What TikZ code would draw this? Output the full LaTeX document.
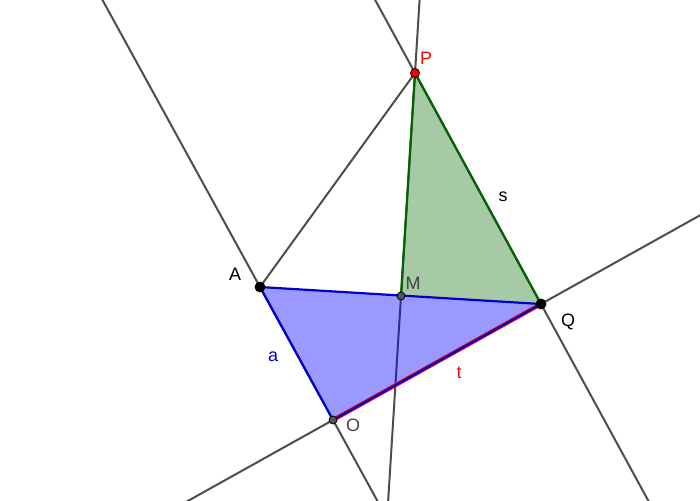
\documentclass[tikz,border=0pt]{standalone}
\usepackage{fontspec}
\setmainfont{Liberation Sans}
\usetikzlibrary{calc}
\definecolor{linegray}{RGB}{77,77,77}
\definecolor{edgeblue}{RGB}{0,0,200}
\definecolor{darkgreen}{RGB}{0,100,0}
\definecolor{ptgray}{RGB}{85,85,85}
\definecolor{lblgray}{RGB}{68,68,68}
\begin{document}
\begin{tikzpicture}[x=1pt,y=-1pt]
		\tikzstyle{line}=[draw=linegray,line width=2pt];
		\tikzstyle{edge}=[line width=2.2pt,line join=round];
		\tikzstyle{pt}=[circle,draw=black,line width=0.8pt,inner sep=0pt,minimum size=9pt];
		\tikzstyle{lbl}=[font=\fontsize{18}{18}\selectfont,inner sep=0pt];
		\clip(0,0)rectangle(700,500);
		\coordinate(A)at(260,287);
		\coordinate(P)at(415,73);
		\coordinate(M)at(401,296);
		\coordinate(Q)at(541,304);
		\coordinate(O)at(333,420);

		% lines
		\draw[line]($(A)!-3!(O)$)--($(O)!-3!(A)$);
		\draw[line]($(O)!-3!(Q)$)--($(Q)!-3!(O)$);
		\draw[line]($(P)!-3!(Q)$)--($(Q)!-3!(P)$);
		\draw[line]($(P)!-3!(M)$)--($(M)!-3!(P)$);
		\draw[line](A)--(P);

		% polygons
		\fill[darkgreen,opacity=0.35](P)--(M)--(Q)--cycle;
		\fill[blue,opacity=0.4](A)--(O)--(Q)--cycle;
		\draw[edge,darkgreen](M)--(P)--(Q);
		\draw[edge,red,line width=4pt](O)--(Q);
		\draw[edge,edgeblue](Q)--(A)--(O)--(Q);

		% points
		\node[pt,fill=black,minimum size=10pt](nA)at(A){};
		\node[pt,fill=black,minimum size=10pt](nQ)at(Q){};
		\node[pt,fill=red](nP)at(P){};
		\node[pt,fill=ptgray,minimum size=8pt](nM)at(M){};
		\node[pt,fill=ptgray,minimum size=8pt](nO)at(O){};

		% labels
		\node[lbl,red]at(426,58){P};
		\node[lbl]at(235,274){A};
		\node[lbl,lblgray]at(413,283){M};
		\node[lbl]at(568,322){Q};
		\node[lbl,lblgray]at(353,425){O};
		\node[lbl,edgeblue]at(273,357){a};
		\node[lbl,red]at(459,373){t};
		\node[lbl]at(503,197){s};
	\end{tikzpicture}
\end{document}
